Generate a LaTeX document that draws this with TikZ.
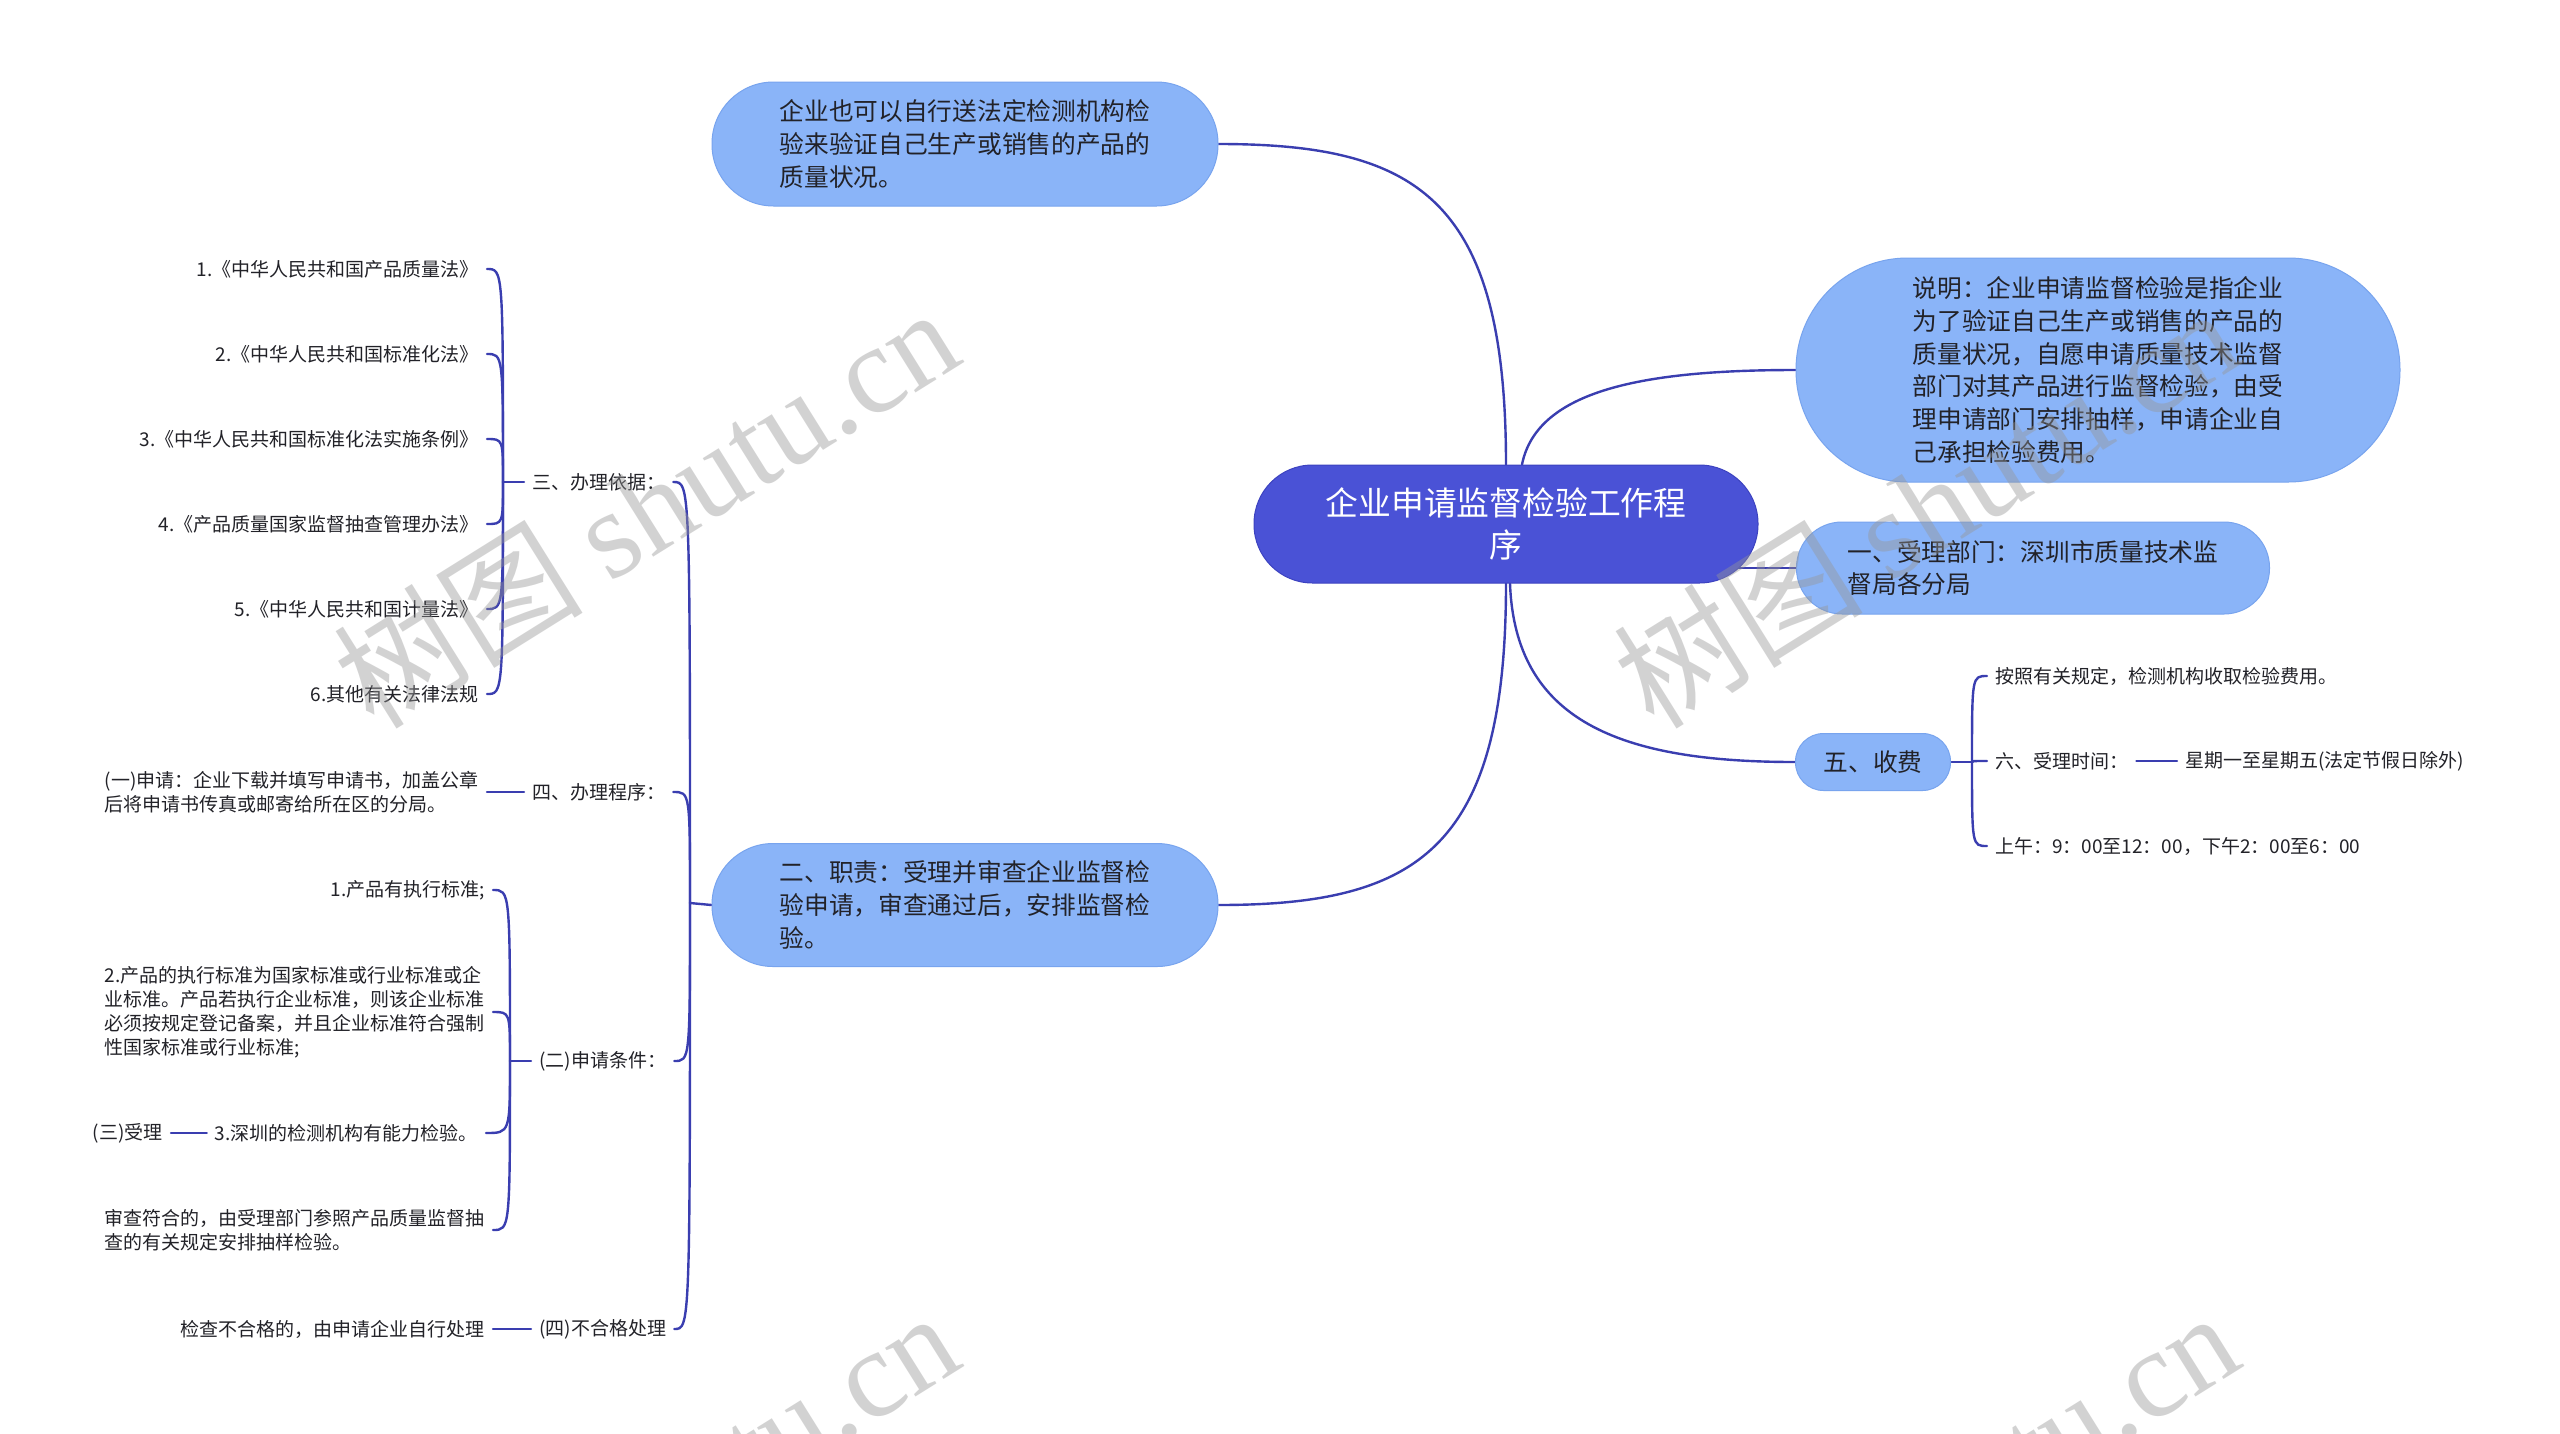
\documentclass[tikz,border=0pt]{standalone}
\usepackage{fontspec}
\setmainfont{Noto Sans CJK SC}
\newfontfamily\wmlat{Liberation Serif}
\usetikzlibrary{backgrounds}
\definecolor{lineblue}{RGB}{58,62,176}
\definecolor{nodeblue}{RGB}{138,180,248}
\definecolor{nodeedge}{RGB}{120,164,238}
\definecolor{titleblue}{RGB}{74,82,214}
\definecolor{titleedge}{RGB}{60,66,192}
\definecolor{txt}{RGB}{34,34,40}
\definecolor{wm}{RGB}{150,150,150}
\begin{document}
\begin{tikzpicture}[x=1pt,y=-1pt,
  conn/.style={draw=lineblue,line width=2.4pt,line cap=round},
  pill/.style={fill=nodeblue,draw=nodeedge,line width=1pt,align=left,text=txt,
    font=\fontsize{24.7}{32.7}\selectfont,inner sep=0pt},
  titlenode/.style={fill=titleblue,draw=titleedge,line width=1pt,align=center,
    text=white,font=\fontsize{32.8}{42.5}\selectfont,inner sep=0pt},
  leaf/.style={inner xsep=8pt,inner ysep=2pt,align=left,text=txt,
    font=\fontsize{19}{24}\selectfont},
  wmark/.style={text=wm,text opacity=0.42,rotate=32,font=\fontsize{125}{125}\selectfont}
]
\useasboundingbox (0,0) rectangle (2560,1433);

% ---------- main nodes ----------
\node[titlenode,minimum width=504,minimum height=118,rounded corners=58.5] (C) at (1506,524)
  {企业申请监督检验工作程\\序};
\node[pill,minimum width=506,minimum height=124,rounded corners=61.5] (T) at (965,144)
  {企业也可以自行送法定检测机构检\\验来验证自己生产或销售的产品的\\质量状况。};
\node[pill,minimum width=506,minimum height=123,rounded corners=61] (B) at (965,905)
  {二、职责：受理并审查企业监督检\\验申请，审查通过后，安排监督检\\验。};
\node[pill,minimum width=604,minimum height=224,rounded corners=111.5] (D) at (2098,370)
  {说明：企业申请监督检验是指企业\\为了验证自己生产或销售的产品的\\质量状况，自愿申请质量技术监督\\部门对其产品进行监督检验，由受\\理申请部门安排抽样，申请企业自\\己承担检验费用。};
\node[pill,minimum width=473,minimum height=92,rounded corners=45.5] (U) at (2033,568)
  {一、受理部门：深圳市质量技术监\\督局各分局};
\node[pill,minimum width=155,minimum height=57,rounded corners=28] (F) at (1873,762)
  {五、收费};

% ---------- right leaves ----------
\coordinate (jR) at (1972,762);
\node[leaf,anchor=west] (R1) at (1987,676) {按照有关规定，检测机构收取检验费用。};
\node[leaf,anchor=west] (R2) at (1987,761) {六、受理时间：};
\node[leaf,anchor=west] (R2a) at (2177,761) {星期一至星期五(法定节假日除外)};
\node[leaf,anchor=west] (R3) at (1987,846) {上午：9：00至12：00，下午2：00至6：00};

% ---------- left side ----------
\coordinate (jL) at (690,903);
\node[leaf,anchor=west] (S3) at (524,482) {三、办理依据：};
\node[leaf,anchor=west] (S4) at (524,792) {四、办理程序：};
\node[leaf,anchor=west] (S2) at (531,1061) {(二)申请条件：};
\node[leaf,anchor=west] (S5) at (531,1329) {(四)不合格处理};

\coordinate (j3) at (503,482);
\node[leaf,anchor=east] (L1) at (487,269) {1.《中华人民共和国产品质量法》};
\node[leaf,anchor=east] (L2) at (487,354) {2.《中华人民共和国标准化法》};
\node[leaf,anchor=east] (L3) at (487,439) {3.《中华人民共和国标准化法实施条例》};
\node[leaf,anchor=east] (L4) at (487,524) {4.《产品质量国家监督抽查管理办法》};
\node[leaf,anchor=east] (L5) at (487,609) {5.《中华人民共和国计量法》};
\node[leaf,anchor=east] (L6) at (487,694) {6.其他有关法律法规};

\node[leaf,anchor=east] (P1) at (487,792)
  {(一)申请：企业下载并填写申请书，加盖公章\\后将申请书传真或邮寄给所在区的分局。};

\coordinate (j2) at (510,1061);
\node[leaf,anchor=east] (K1) at (493,890) {1.产品有执行标准;};
\node[leaf,anchor=east] (K2) at (493,1012)
  {2.产品的执行标准为国家标准或行业标准或企\\业标准。产品若执行企业标准，则该企业标准\\必须按规定登记备案，并且企业标准符合强制\\性国家标准或行业标准;};
\node[leaf,anchor=east] (K3) at (486,1133) {3.深圳的检测机构有能力检验。};
\node[leaf,anchor=east] (K3a) at (171,1133) {(三)受理};
\node[leaf,anchor=east] (K4) at (493,1230)
  {审查符合的，由受理部门参照产品质量监督抽\\查的有关规定安排抽样检验。};
\node[leaf,anchor=east] (S5a) at (493,1329) {检查不合格的，由申请企业自行处理};

% ---------- connectors ----------
\begin{pgfonlayer}{background}
  \fill[white] (0,0) rectangle (2560,1433);
  \draw[conn] (C.north) .. controls +(0,-265) and +(200,0) .. (T.east);
  \draw[conn] (C.south) .. controls +(0,265) and +(200,0) .. (B.east);
  \draw[conn] ([xshift=16pt]C.north) .. controls +(15,-75) and +(-150,0) .. (D.west);
  \draw[conn] (C.center |- U.west) -- (U.west);
  \draw[conn] ([xshift=4pt]C.south) .. controls +(5,137) and +(-176,0) .. (F.west);
  % right bracket
  \draw[conn] (F.east) -- (jR);
  \foreach \n in {R1,R2,R3}
    \draw[conn] (jR) .. controls (jR |- \n.west) and (jR |- \n.west) .. (\n.west);
  \draw[conn] (R2.east) -- (R2a.west);
  % main left bracket
  \draw[conn] (B.west) -- (jL);
  \foreach \n in {S3,S4,S2,S5}
    \draw[conn] (jL) .. controls (jL |- \n.east) and (jL |- \n.east) .. (\n.east);
  % legal list
  \draw[conn] (S3.west) -- (j3);
  \foreach \n in {L1,L2,L3,L4,L5,L6}
    \draw[conn] (j3) .. controls (j3 |- \n.east) and (j3 |- \n.east) .. (\n.east);
  \draw[conn] (S4.west) -- (P1.east);
  % conditions
  \draw[conn] (S2.west) -- (j2);
  \foreach \n in {K1,K2,K3,K4}
    \draw[conn] (j2) .. controls (j2 |- \n.east) and (j2 |- \n.east) .. (\n.east);
  \draw[conn] (K3.west) -- (K3a.east);
  \draw[conn] (S5.west) -- (S5a.east);
\end{pgfonlayer}

% ---------- watermarks ----------
\begin{scope}
  \clip (0,0) rectangle (2560,1433);
  \node[wmark] (W1) at (645,506) {树图 {\wmlat shutu.cn}};
  \node[wmark] (W2) at (1925,506) {树图 {\wmlat shutu.cn}};
  \node[wmark] (W3) at (645,1510) {树图 {\wmlat shutu.cn}};
  \node[wmark] (W4) at (1925,1510) {树图 {\wmlat shutu.cn}};
\end{scope}
\end{tikzpicture}
\end{document}
